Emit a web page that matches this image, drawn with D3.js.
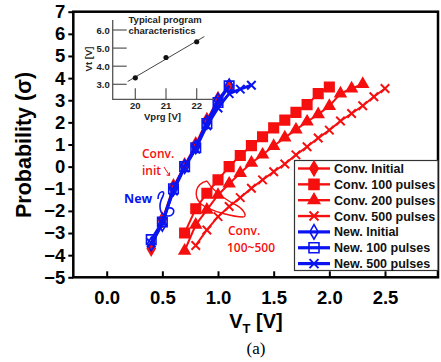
<!DOCTYPE html>
<html>
<head>
<meta charset="utf-8">
<script src="https://cdn.jsdelivr.net/npm/d3@7"></script>
<style>
  html, body { margin: 0; padding: 0; background: #fff; }
  svg { display: block; font-family: "Liberation Sans", Arial, sans-serif; }
</style>
</head>
<body>
<svg id="chart" width="441" height="362"></svg>
<script>
// ---- data ----
const xTicks = [0.0, 0.5, 1.0, 1.5, 2.0, 2.5];
const yTicks = [-5, -4, -3, -2, -1, 0, 1, 2, 3, 4, 5, 6, 7];

// low-Vt group (initial states and New cell)
const vtLow = [0.4, 0.5, 0.6, 0.7, 0.8, 0.9, 1.0, 1.1];
const convInitP = [-3.7, -2.4, -0.9, 0.05, 1.0, 2.1, 3.05, 3.6];
const newInitP = [-3.5, -2.6, -1.0, 0.0, 0.9, 2.0, 3.0, 3.65];
const new100P = [-3.3, -2.5, -1.0, 0.0, 0.85, 1.95, 2.9, 3.65];

const vtNew500 = [0.4, 0.5, 0.6, 0.7, 0.8, 0.9, 1.0, 1.1, 1.2, 1.3];
const new500P = [-3.45, -2.5, -1.1, -0.05, 0.8, 1.85, 2.65, 3.3, 3.5, 3.68];

const vtConv100 = [0.7, 0.8, 0.9, 1.0, 1.1, 1.2, 1.3, 1.4, 1.5, 1.6, 1.7, 1.8, 1.9, 2.0];
const conv100P = [-3.0, -1.9, -1.2, -0.6, 0.0, 0.5, 0.95, 1.35, 1.75, 2.1, 2.45, 2.8, 3.3, 3.6];

const vtConv200 = [0.7, 0.8, 0.9, 1.0, 1.1, 1.2, 1.3, 1.4, 1.5, 1.6, 1.7, 1.8, 1.9, 2.0, 2.1, 2.2, 2.3];
const conv200P = [-3.8, -2.63, -1.95, -1.28, -0.77, -0.29, 0.17, 0.54, 0.93, 1.31, 1.67, 2.03, 2.36, 2.74, 3.3, 3.53, 3.73];

const vtConv500 = [0.8, 0.9, 1.0, 1.1, 1.2, 1.3, 1.4, 1.5, 1.6, 1.7, 1.8, 1.9, 2.0, 2.1, 2.2, 2.3, 2.4, 2.5];
const conv500P = [-3.56, -2.86, -2.26, -1.8, -1.4, -0.98, -0.6, -0.23, 0.12, 0.53, 0.9, 1.29, 1.65, 2.06, 2.4, 2.75, 3.16, 3.53];

// inset: typical program characteristics
const vprg = [20, 21, 22];
const vtProg = [3.36, 4.48, 5.35];
const insetXTicks = [20, 21, 22];
const insetYTicks = [3.0, 4.0, 5.0, 6.0];

const seriesNames = ["Conv. Initial", "Conv. 100 pulses", "Conv. 200 pulses", "Conv. 500 pulses",
                     "New. Initial", "New. 100 pulses", "New. 500 pulses"];

const RED = "#f50f0f";
const BLUE = "#0a14f0";

// draw order: red first, blue over the top
const series = [
  { name: seriesNames[1], x: vtConv100, y: conv100P, color: RED, mark: "square", fill: true, lw: 2 },
  { name: seriesNames[2], x: vtConv200, y: conv200P, color: RED, mark: "triangle", fill: true, lw: 2 },
  { name: seriesNames[3], x: vtConv500, y: conv500P, color: RED, mark: "x", fill: false, lw: 2 },
  { name: seriesNames[0], x: vtLow, y: convInitP, color: RED, mark: "diamond", fill: true, lw: 2 },
  { name: seriesNames[4], x: vtLow, y: newInitP, color: BLUE, mark: "diamond", fill: false, lw: 2.8 },
  { name: seriesNames[5], x: vtLow, y: new100P, color: BLUE, mark: "square", fill: false, lw: 2.8 },
  { name: seriesNames[6], x: vtNew500, y: new500P, color: BLUE, mark: "x", fill: false, lw: 2.8 }
];
const legendOrder = [3, 0, 1, 2, 4, 5, 6];

const svg = d3.select("#chart");

const x = d3.scaleLinear().domain([0, 2.5]).range([106.7, 385]);
const y = d3.scaleLinear().domain([-5, 7]).range([277.3, 11.7]);
const left = x(-0.3), right = 438;

// markers
function markerPath(kind, s) {
  if (kind === "x") {
    const h = s / 2;
    return `M${-h},${-h}L${h},${h}M${-h},${h}L${h},${-h}`;
  }
  const type = kind === "square" ? d3.symbolSquare
    : kind === "triangle" ? d3.symbolTriangle : d3.symbolDiamond;
  const area = kind === "square" ? s * s : kind === "triangle" ? s * s * 0.55 : s * s * 0.6;
  return d3.symbol().type(type).size(area)();
}

function drawMark(g, d, kind, color, fill, size) {
  g.append("path")
    .attr("d", markerPath(kind, size))
    .attr("transform", `translate(${d[0]},${d[1]})`)
    .attr("fill", fill ? color : "none")
    .attr("stroke", color)
    .attr("stroke-width", kind === "x" ? 2 : 1.6);
}

const line = d3.line().x(d => x(d[0])).y(d => y(d[1]));
const plot = svg.append("g");

series.forEach(s => {
  const pts = s.x.map((v, i) => [v, s.y[i]]);
  plot.append("path")
    .attr("d", line(pts))
    .attr("fill", "none")
    .attr("stroke", s.color)
    .attr("stroke-width", s.lw);
  const mg = plot.append("g");
  pts.forEach(p => drawMark(mg, [x(p[0]), y(p[1])], s.mark, s.color, s.fill, s.mark === "x" ? 8.5 : 9.5));
});

// frame
svg.append("rect")
  .attr("x", left).attr("y", y(7))
  .attr("width", right - left).attr("height", y(-5) - y(7))
  .attr("fill", "none").attr("stroke", "#000").attr("stroke-width", 2.5);

// x axis: inward ticks
const xAxis = svg.append("g")
  .attr("transform", `translate(0,${y(-5)})`)
  .call(d3.axisBottom(x).tickValues(xTicks).tickFormat(d3.format(".1f")).tickSizeInner(-6).tickSizeOuter(0).tickPadding(14));
xAxis.select(".domain").remove();
xAxis.selectAll("line").attr("stroke", "#000").attr("stroke-width", 2);
xAxis.selectAll("text").attr("font-size", 18.5).attr("font-weight", "bold").attr("fill", "#000")
  .attr("font-family", "Liberation Sans, Arial, sans-serif");

// y axis: outward ticks
const yAxis = svg.append("g")
  .attr("transform", `translate(${left},0)`)
  .call(d3.axisLeft(y).tickValues(yTicks).tickFormat(d3.format("d")).tickSizeInner(5).tickSizeOuter(0).tickPadding(3));
yAxis.select(".domain").remove();
yAxis.selectAll("line").attr("stroke", "#000").attr("stroke-width", 2);
yAxis.selectAll("text").attr("font-size", 18.5).attr("font-weight", "bold").attr("fill", "#000")
  .attr("font-family", "Liberation Sans, Arial, sans-serif");

// axis titles
svg.append("text")
  .attr("transform", "translate(31,145) rotate(-90)")
  .attr("text-anchor", "middle")
  .attr("font-size", 21.5).attr("font-weight", "bold")
  .text("Probability (σ)");

const xt = svg.append("text")
  .attr("x", 256).attr("y", 328)
  .attr("text-anchor", "middle")
  .attr("font-size", 20).attr("font-weight", "bold");
xt.append("tspan").text("V");
xt.append("tspan").attr("font-size", 13).attr("dy", 5).text("T");
xt.append("tspan").attr("dy", -5).text(" [V]");

svg.append("text")
  .attr("x", 256).attr("y", 354)
  .attr("text-anchor", "middle")
  .attr("font-family", "Liberation Serif, Times New Roman, serif")
  .attr("font-size", 17)
  .text("(a)");

// ---- inset ----
const ix = d3.scaleLinear().domain([20, 22]).range([135.3, 196.7]);
const iy = d3.scaleLinear().domain([3, 6]).range([84.3, 30]);
const ix0 = ix.invert(112.7), ix1 = ix.invert(214);
const iy0 = iy.invert(99.3), iy1 = iy.invert(20);
const inset = svg.append("g");

inset.append("path")
  .attr("d", `M${ix(ix0)},${iy(iy1)}V${iy(iy0)}H${ix(ix1)}`)
  .attr("fill", "none").attr("stroke", "#555").attr("stroke-width", 1.3);

insetYTicks.forEach(t => {
  inset.append("line")
    .attr("x1", ix(ix0)).attr("x2", ix(ix0) + 14)
    .attr("y1", iy(t)).attr("y2", iy(t))
    .attr("stroke", "#555").attr("stroke-width", 1.2);
  inset.append("text")
    .attr("x", ix(ix0) - 3).attr("y", iy(t) + 3.5)
    .attr("text-anchor", "end")
    .attr("font-size", 9.5).attr("font-weight", "bold").attr("fill", "#222")
    .text(d3.format(".1f")(t));
});
insetXTicks.forEach(t => {
  inset.append("line")
    .attr("x1", ix(t)).attr("x2", ix(t))
    .attr("y1", iy(iy0)).attr("y2", iy(iy0) - 11)
    .attr("stroke", "#555").attr("stroke-width", 1.2);
  inset.append("text")
    .attr("x", ix(t)).attr("y", iy(iy0) + 10)
    .attr("text-anchor", "middle")
    .attr("font-size", 9.5).attr("font-weight", "bold").attr("fill", "#222")
    .text(t);
});

// least-squares line through the inset points
const mx = d3.mean(vprg), my = d3.mean(vtProg);
const slope = d3.sum(vprg, (v, i) => (v - mx) * (vtProg[i] - my)) / d3.sum(vprg, v => (v - mx) ** 2);
const fitX = [19.75, 22.25];
inset.append("line")
  .attr("x1", ix(fitX[0])).attr("y1", iy(my + slope * (fitX[0] - mx)))
  .attr("x2", ix(fitX[1])).attr("y2", iy(my + slope * (fitX[1] - mx)))
  .attr("stroke", "#444").attr("stroke-width", 1);
vprg.forEach((v, i) => {
  inset.append("circle")
    .attr("cx", ix(v)).attr("cy", iy(vtProg[i])).attr("r", 2.6)
    .attr("fill", "#111");
});

inset.append("text")
  .attr("x", 128.5).attr("y", 22.5)
  .attr("font-size", 9.5).attr("font-weight", "bold").attr("fill", "#222")
  .text("Typical program");
inset.append("text")
  .attr("x", 128.5).attr("y", 33.5)
  .attr("font-size", 9.5).attr("font-weight", "bold").attr("fill", "#222")
  .text("characteristics");
inset.append("text")
  .attr("x", 162.5).attr("y", 119.5)
  .attr("text-anchor", "middle")
  .attr("font-size", 9.5).attr("font-weight", "bold").attr("fill", "#222")
  .text("Vprg [V]");
inset.append("text")
  .attr("transform", "translate(91.5,59) rotate(-90)")
  .attr("text-anchor", "middle")
  .attr("font-size", 9.5).attr("font-weight", "bold").attr("fill", "#222")
  .text("Vt [V]");

// ---- annotations ----
const ann = svg.append("g").attr("font-family", "Open Sans, Noto Sans, sans-serif");
ann.append("text").attr("x", 142).attr("y", 158).attr("font-size", 12).attr("font-weight", 600).attr("fill", RED).text("Conv.");
ann.append("text").attr("x", 142).attr("y", 175).attr("font-size", 12).attr("font-weight", 600).attr("fill", RED).text("init");
ann.append("path")
  .attr("d", "M164,167 L169.5,175.5 M166.5,175 L169.5,175.5 L169.6,172.3")
  .attr("fill", "none").attr("stroke", RED).attr("stroke-width", 1);
ann.append("text").attr("x", 124).attr("y", 203).attr("font-size", 12.5).attr("font-weight", 700).attr("fill", BLUE).text("New");
ann.append("path")
  .attr("d", "M158,199 C158,191 166,189 163,196 C158,205 159,216 168,216 C175,216 176,207 169,208")
  .attr("fill", "none").attr("stroke", BLUE).attr("stroke-width", 1.6);
ann.append("text").attr("x", 228).attr("y", 235).attr("font-size", 12).attr("font-weight", 600).attr("fill", RED).text("Conv.");
ann.append("text").attr("x", 227).attr("y", 252).attr("font-size", 12).attr("font-weight", 600).attr("fill", RED).text("100~500");
ann.append("path")
  .attr("d", "M207,181 C195,184 193,196 201,204 C211,212 236,217 243,217 C248,217 244,208 232,203 C222,197 212,190 207,181")
  .attr("fill", "none").attr("stroke", RED).attr("stroke-width", 1.4);

// ---- legend ----
const lg = svg.append("g");
const lgTop = 160.5, lgRow = 15.85;
lg.append("rect")
  .attr("x", 294.5).attr("y", lgTop)
  .attr("width", right - 294.5).attr("height", 110)
  .attr("fill", "#fff").attr("stroke", "#333").attr("stroke-width", 1.2);
legendOrder.forEach((si, k) => {
  const s = series[si];
  const cy = lgTop + 8 + k * lgRow;
  lg.append("line")
    .attr("x1", 298).attr("x2", 330).attr("y1", cy).attr("y2", cy)
    .attr("stroke", s.color).attr("stroke-width", s.lw + 0.4);
  drawMark(lg, [314, cy], s.mark, s.color, s.fill, s.mark === "x" ? 9 : 10);
  lg.append("text")
    .attr("x", 334).attr("y", cy + 4.5)
    .attr("font-size", 12.5).attr("font-weight", "bold").attr("fill", "#111")
    .text(s.name);
});
</script>
</body>
</html>
